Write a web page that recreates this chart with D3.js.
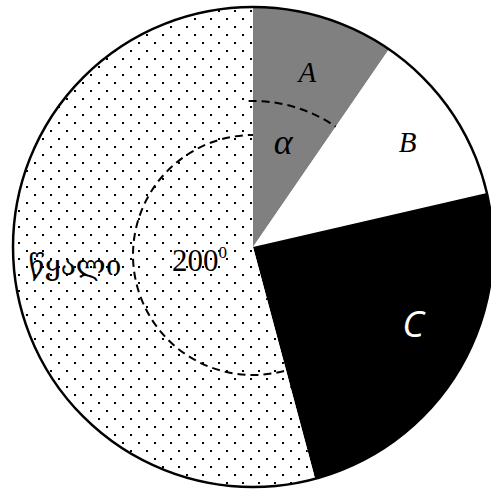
<!DOCTYPE html>
<html><head><meta charset="utf-8">
<script src="https://cdn.jsdelivr.net/npm/d3@7"></script>
<style>html,body{margin:0;padding:0;background:#fff;}svg{display:block;}</style>
</head><body>
<svg id="chart" width="491" height="491"></svg>
<script>
// Data (sector angles in degrees)
const categories = ["A", "B", "C", "წყალი"];
const degrees = [34.5, 42.5, 88, 195];
const labels = ["A", "B", "C", "წყალი"];
const angleLabels = ["α", "200"];

const svg = d3.select("#chart");
const cx = 253, cy = 247, R = 240;
const toRad = d => d * Math.PI / 180;

const defs = svg.append("defs");
const pat = defs.append("pattern").attr("id", "dots")
  .attr("patternUnits", "userSpaceOnUse").attr("width", 16).attr("height", 16);
pat.append("rect").attr("width", 16).attr("height", 16).attr("fill", "#fff");
pat.append("rect").attr("x", 5).attr("y", 11).attr("width", 2).attr("height", 2).attr("fill", "#000");
pat.append("rect").attr("x", 13).attr("y", 3).attr("width", 2).attr("height", 2).attr("fill", "#000");

const fills = d3.scaleOrdinal().domain(categories).range(["#808080", "#ffffff", "#000000", "url(#dots)"]);

const pie = d3.pie().sort(null).value(d => d.v).startAngle(0).endAngle(2 * Math.PI);
const data = pie(categories.map((c, i) => ({ c, v: degrees[i] })));
const arc = d3.arc().innerRadius(0).outerRadius(R);

const g = svg.append("g").attr("transform", `translate(${cx},${cy})`);
g.selectAll("path.slice").data(data).join("path").attr("class", "slice")
  .attr("d", arc).attr("fill", d => fills(d.data.c)).attr("stroke", "none");

// Outer circle
g.append("circle").attr("r", R).attr("fill", "none").attr("stroke", "#000").attr("stroke-width", 2.5);

// Dashed angle marks (single open arcs)
function openArc(r, a0, a1, oy) {
  const p = d3.path();
  p.arc(0, oy, r, a0 - Math.PI / 2, a1 - Math.PI / 2, false);
  return p.toString();
}
const aSlice = data[0], wSlice = data[3];
g.append("path").attr("d", openArc(146, -0.03, aSlice.endAngle, 0))
  .attr("fill", "none").attr("stroke", "#000").attr("stroke-width", 2).attr("stroke-dasharray", "8,5");
g.append("path").attr("d", openArc(120, toRad(165), 2 * Math.PI, 8))
  .attr("fill", "none").attr("stroke", "#000").attr("stroke-width", 2).attr("stroke-dasharray", "8,5");

function polar(a, r) { return [r * Math.sin(a), -r * Math.cos(a)]; }
const mid = d => (d.startAngle + d.endAngle) / 2;

// Slice labels
const labelCfg = [
  { r: 183, da: 0, font: "Liberation Serif", size: 29, style: "italic", fill: "#000" },
  { r: 187, da: 0, font: "Liberation Serif", size: 29, style: "italic", fill: "#000" },
  { r: 177, da: -0.1, font: "Open Sans", size: 37, style: "italic", fill: "#fff" },
  { r: 179, da: 0.03, font: "DejaVu Serif, DejaVu Sans", size: 28, style: "normal", fill: "#000" }
];
data.forEach((d, i) => {
  const c = labelCfg[i];
  const [x, y] = polar(mid(d) + c.da, c.r);
  g.append("text").attr("x", x).attr("y", y)
    .attr("text-anchor", "middle").attr("dominant-baseline", "central")
    .attr("font-family", c.font).attr("font-size", c.size).attr("font-style", c.style)
    .attr("fill", c.fill).text(labels[i]);
});

// Angle labels
{
  const [x, y] = polar(mid(aSlice) - 0.02, 109);
  g.append("text").attr("x", x).attr("y", y).attr("text-anchor", "middle").attr("dominant-baseline", "central")
    .attr("font-family", "Liberation Serif").attr("font-style", "italic").attr("font-size", 36).text(angleLabels[0]);
}
{
  const t = g.append("text").attr("x", -81).attr("y", 24)
    .attr("font-family", "Liberation Serif").attr("font-size", 31).attr("fill", "#000");
  t.append("tspan").text(angleLabels[1]);
  t.append("tspan").attr("dy", -13).attr("font-size", 17).text("0");
}
</script>
</body></html>
